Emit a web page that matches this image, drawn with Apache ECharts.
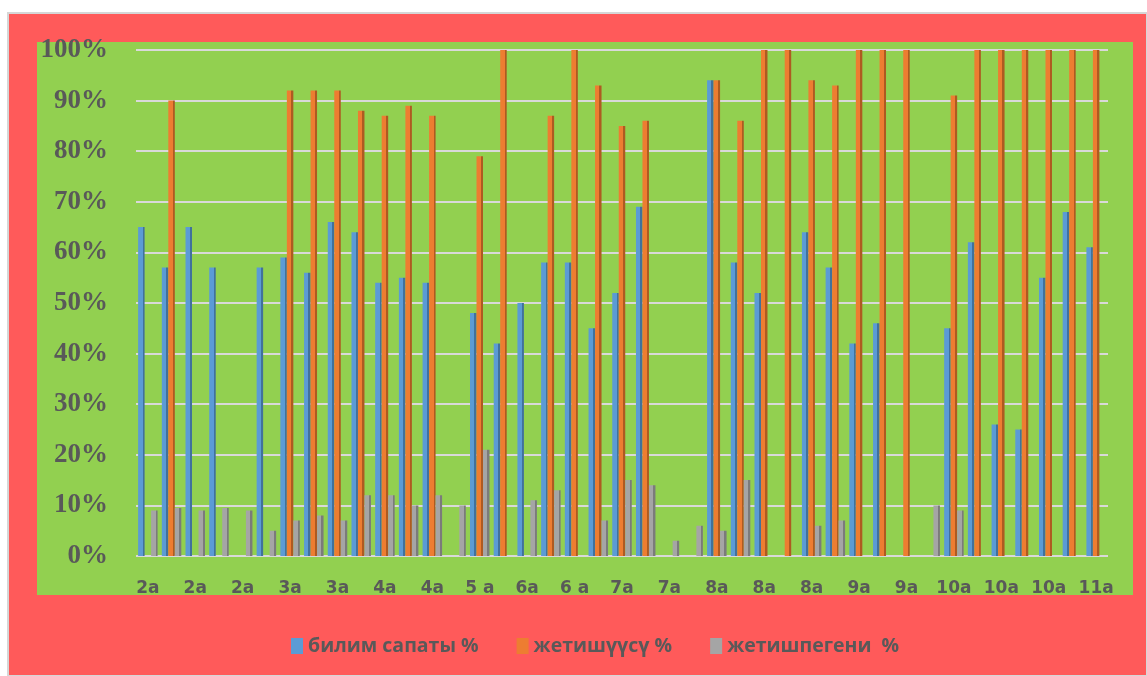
<!DOCTYPE html>
<html>
<head>
<meta charset="utf-8">
<script src="https://cdn.jsdelivr.net/npm/echarts@6/dist/echarts.min.js"></script>
<style>
  html, body { margin: 0; padding: 0; background: #fff; }
  #chart { width: 1147px; height: 676px; }
</style>
</head>
<body>
<div id="chart"></div>
<script>
// классы (подписи видны через одну)
var classes = ['2а', '2а', '2а', '2а', '2а', '2а', '3а', '3а', '3а', '3а', '4а', '4а', '4а', '4а',
  '5 а', '5 а', '6а', '6а', '6 а', '6 а', '7а', '7а', '7а', '7а', '8а', '8а', '8а', '8а', '8а', '8а',
  '9а', '9а', '9а', '9а', '10а', '10а', '10а', '10а', '10а', '10а', '11а']

var bilimSapaty = [65, 57, 65, 57, 0, 57, 59, 56, 66, 64,
  54, 55, 54, 0, 48, 42, 50, 58, 58, 45,
  52, 69, 0, 0, 94, 58, 52, 0, 64, 57,
  42, 46, 0, 0, 45, 62, 26, 25, 55, 68, 61]

var zhetishuusu = [0, 90, 0, 0, 0, 0, 92, 92, 92, 88,
  87, 89, 87, 0, 79, 100, 0, 87, 100, 93,
  85, 86, 0, 0, 94, 86, 100, 100, 94, 93,
  100, 100, 100, 0, 91, 100, 100, 100, 100, 100, 100]

var zhetishpegeni = [9, 9.5, 9, 9.5, 9, 5, 7, 8, 7, 12,
  12, 10, 12, 10, 21, 0, 11, 13, 0, 7,
  15, 14, 3, 6, 5, 15, 0, 0, 6, 7,
  0, 0, 0, 10, 9, 0, 0, 0, 0, 0, 0]

var seriesNames = ['билим сапаты %', 'жетишүүсү %', 'жетишпегени  %']

// бок столбика темнее — имитация объёма
function shade(light, dark) {
  return new echarts.graphic.LinearGradient(0, 0, 1, 0, [
    { offset: 0, color: light },
    { offset: 0.68, color: light },
    { offset: 0.68, color: dark },
    { offset: 1, color: dark }
  ])
}

var myChart = echarts.init(document.getElementById('chart'))

var option = {
  backgroundColor: '#fff',
  color: ['#5B9BD5', '#ED7D31', '#A5A5A5'],
  graphic: [
    {
      type: 'rect',
      z: -10,
      shape: { x: 8, y: 13, width: 1139, height: 663 },
      style: { fill: '#FF5A5A', stroke: '#D6D6D6', lineWidth: 2 }
    },
    {
      type: 'rect',
      z: -9,
      shape: { x: 37, y: 42, width: 1096, height: 553 },
      style: { fill: '#92D050' }
    }
  ],
  legend: {
    bottom: 15,
    left: 286,
    itemWidth: 12,
    itemHeight: 16,
    itemGap: 38,
    icon: 'rect',
    textStyle: {
      color: '#595959',
      fontFamily: 'Open Sans',
      fontWeight: 'bold',
      fontSize: 19.5
    },
    data: seriesNames
  },
  grid: {
    top: 50,
    left: 136,
    right: 39,
    bottom: 120
  },
  xAxis: {
    type: 'category',
    data: classes,
    axisLine: { show: false },
    axisTick: { show: false },
    axisLabel: {
      interval: 1,
      margin: 24,
      color: '#595959',
      fontFamily: 'DejaVu Sans',
      fontWeight: 'bold',
      fontSize: 17
    }
  },
  yAxis: {
    type: 'value',
    min: 0,
    max: 100,
    interval: 10,
    axisLine: { show: false },
    axisTick: { show: false },
    axisLabel: {
      formatter: '{value}%',
      margin: 28,
      color: '#595959',
      fontFamily: 'Liberation Serif',
      fontWeight: 'bold',
      fontSize: 27
    },
    splitLine: {
      lineStyle: { color: '#D9D9D9', width: 2 }
    }
  },
  series: [
    {
      name: seriesNames[0],
      type: 'bar',
      barWidth: 6.5,
      barGap: '0%',
      itemStyle: { color: shade('#5B9BD5', '#41719C') },
      data: bilimSapaty
    },
    {
      name: seriesNames[1],
      type: 'bar',
      barWidth: 6.5,
      barGap: '0%',
      itemStyle: { color: shade('#ED7D31', '#AE5A21') },
      data: zhetishuusu
    },
    {
      name: seriesNames[2],
      type: 'bar',
      barWidth: 6.5,
      barGap: '0%',
      itemStyle: { color: shade('#A5A5A5', '#7B7B7B') },
      data: zhetishpegeni
    }
  ]
}

// цвета значков легенды — плоские
option.legend.data = seriesNames.map(function (n, i) {
  return { name: n, itemStyle: { color: option.color[i] } }
})

option && myChart.setOption(option)
</script>
</body>
</html>
